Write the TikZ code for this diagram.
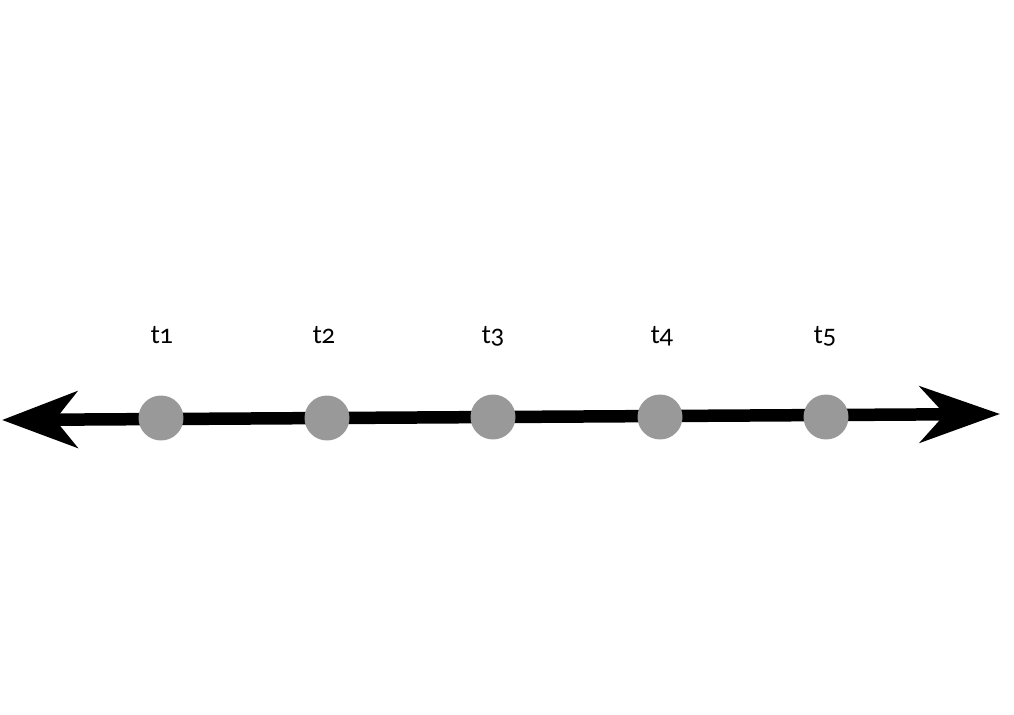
\documentclass[tikz,border=0pt]{standalone}
\usepackage{fontspec}
\setmainfont{Lato}[Numbers=OldStyle]
\usetikzlibrary{arrows.meta}
\tikzset{
    dot/.style={circle, fill=black!40, inner sep=0pt, minimum size=0.9cm},
    tlabel/.style={font=\fontsize{14.5}{16}\selectfont, inner sep=0pt},
    axisline/.style={line width=0.25cm, {Stealth[length=1.5cm, width=1.12cm, inset=0.44cm]}-{Stealth[length=1.6cm, width=1.12cm, inset=0.5cm]}}
}
\begin{document}
\begin{tikzpicture}[x=0.02cm, y=-0.02cm]
    \useasboundingbox (0, 0) rectangle (1014, 715);
    \coordinate (l) at (2, 420);
    \coordinate (r) at (1000, 414);
    \draw[axisline] (l) -- (r);
    \node[dot] (0) at (161, 418) {};
    \node[dot] (1) at (327, 418) {};
    \node[dot] (2) at (493, 417) {};
    \node[dot] (3) at (660, 417) {};
    \node[dot] (4) at (826, 417) {};
    \node[tlabel] (t1) at (162, 335) {t1};
    \node[tlabel] (t2) at (324, 335) {t2};
    \node[tlabel] (t3) at (493, 336) {t3};
    \node[tlabel] (t4) at (662, 336) {t4};
    \node[tlabel] (t5) at (825, 336) {t5};
\end{tikzpicture}
\end{document}
